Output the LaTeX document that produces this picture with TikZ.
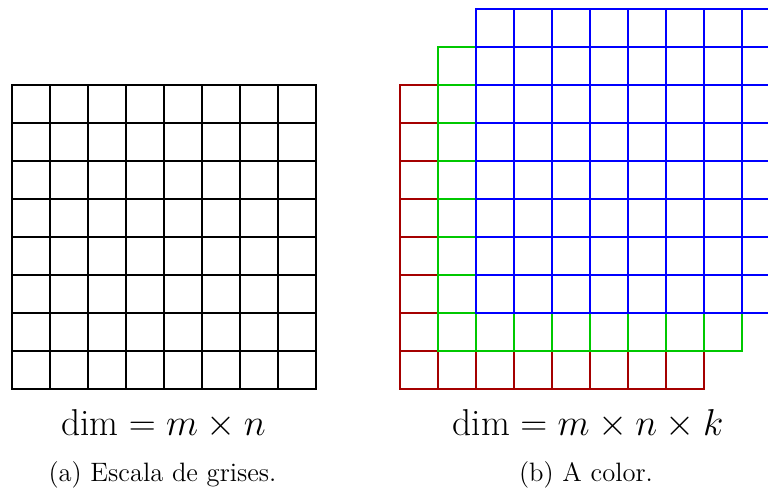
\RequirePackage{fix-cm}
\documentclass[tikz,border=0pt]{standalone}
\usepackage{amsmath}
\usepackage{fontspec}
\definecolor{layerred}{RGB}{165,0,0}
\definecolor{layergreen}{RGB}{0,200,0}
\definecolor{layerblue}{RGB}{0,0,255}
\newcommand\pixgrid[3]{%
  \draw[gridline,draw=#1] \foreach \i in {0,...,8} {%
    (#2+\i*38,#3) -- (#2+\i*38,#3+304)
    (#2,#3+\i*38) -- (#2+304,#3+\i*38)
  };%
}
\begin{document}
\begin{tikzpicture}[x=0.5pt,y=-0.5pt,
  gridline/.style={line width=0.9pt,line cap=rect},
  mathlabel/.style={anchor=base,inner sep=0pt,font=\fontsize{18.7}{22}\selectfont},
  caplabel/.style={anchor=base,inner sep=0pt,font=\fontsize{13.3}{16}\selectfont}]
\useasboundingbox (0,0) rectangle (768,491);
\clip (0,0) rectangle (768,491);
% left: grayscale
\pixgrid{black}{12}{85}
% right: colour layers
\pixgrid{layerred}{400}{85}
\pixgrid{layergreen}{438}{47}
\pixgrid{layerblue}{476}{9}
\node[mathlabel] (dimA) at (163.5,436) {$\dim = m \times n$};
\node[mathlabel] (dimB) at (588,436) {$\dim = m \times n \times k$};
\node[caplabel] (capA) at (162.5,481.7) {(a) Escala de grises.};
\node[caplabel] (capB) at (586,481.7) {(b) A color.};
\end{tikzpicture}
\end{document}
